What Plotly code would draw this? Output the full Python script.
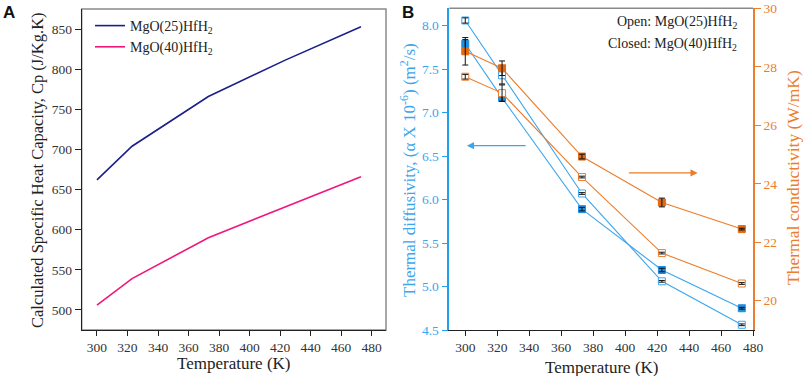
import plotly.graph_objects as go

# ---------------- data ----------------
temps = [300, 323, 373, 423, 473]
cp_mgo25 = [662, 704, 766, 811, 853]
cp_mgo40 = [506, 539, 590, 628, 666]

diff_open = [8.06, 7.43, 6.07, 5.06, 4.56]      # MgO(25)HfH2
diff_open_err = [0.03, 0.10, 0.01, 0.01, 0.01]
diff_closed = [7.79, 7.17, 5.89, 5.19, 4.75]    # MgO(40)HfH2
diff_closed_err = [0.05, 0.04, 0.02, 0.02, 0.01]

cond_open = [27.66, 27.10, 24.23, 21.63, 20.59]
cond_open_err = [0.08, 0.28, 0.03, 0.03, 0.03]
cond_closed = [28.53, 27.95, 24.93, 23.36, 22.45]
cond_closed_err = [0.47, 0.25, 0.08, 0.15, 0.03]

x_ticks = [300, 320, 340, 360, 380, 400, 420, 440, 460, 480]

# ---------------- style ----------------
SERIF = "Liberation Serif, Times New Roman, Times, serif"
SANS = "Liberation Sans, Arial, sans-serif"
NAVY = "#1b1f8a"
PINK = "#f0167e"
BLUE = "#3aa6ee"
BLUE_F = "#1e8ee0"
BLUE_AX = "#22a0ec"
ORANGE = "#ec7d2c"
ORANGE_F = "#e06a14"
GRAY = "#8a8a8a"

W, H = 803, 376
def px(x):
    return x / W
def py(y):
    return 1 - y / H

fig = go.Figure()

# Panel A
fig.add_trace(go.Scatter(x=temps, y=cp_mgo25, mode="lines", name="MgO(25)HfH<sub>2</sub>",
                         line=dict(color=NAVY, width=1.6), xaxis="x", yaxis="y"))
fig.add_trace(go.Scatter(x=temps, y=cp_mgo40, mode="lines", name="MgO(40)HfH<sub>2</sub>",
                         line=dict(color=PINK, width=1.6), xaxis="x", yaxis="y"))

# Panel B lines + markers
def series(y, color, fillc, open_, yaxis):
    return go.Scatter(x=temps, y=y, mode="lines+markers", showlegend=False,
                      line=dict(color=color, width=1.1),
                      marker=dict(symbol="square", size=7,
                                  color="white" if open_ else fillc,
                                  line=dict(color=color if open_ else fillc, width=1)),
                      xaxis="x2", yaxis=yaxis)

fig.add_trace(series(diff_open, BLUE, BLUE_F, True, "y2"))
fig.add_trace(series(diff_closed, BLUE, BLUE_F, False, "y2"))
fig.add_trace(series(cond_open, ORANGE, ORANGE_F, True, "y3"))
fig.add_trace(series(cond_closed, ORANGE, ORANGE_F, False, "y3"))

# error bars on top
def errs(y, e, yaxis):
    return go.Scatter(x=temps, y=y, mode="markers", showlegend=False,
                      marker=dict(size=1, opacity=0),
                      error_y=dict(type="data", array=e, visible=True, color="#111111",
                                   thickness=1, width=3),
                      xaxis="x2", yaxis=yaxis, hoverinfo="skip")

fig.add_trace(errs(diff_open, diff_open_err, "y2"))
fig.add_trace(errs(diff_closed, diff_closed_err, "y2"))
fig.add_trace(errs(cond_open, cond_open_err, "y3"))
fig.add_trace(errs(cond_closed, cond_closed_err, "y3"))

dA_x = [px(81.7), px(386)]
dA_y = [py(330), py(9)]
dB_x = [px(449.3), px(753)]
dB_y = [py(330), py(8.3)]

tickfont = dict(family=SERIF, size=13.5, color="#333333")

fig.update_layout(
    width=W, height=H,
    margin=dict(l=0, r=0, t=0, b=0),
    paper_bgcolor="white", plot_bgcolor="white",
    font=dict(family=SERIF, color="#222222"),
    showlegend=True,
    legend=dict(x=px(90), y=py(10), xanchor="left", yanchor="top",
                font=dict(family=SERIF, size=14, color="#222222"),
                bgcolor="rgba(0,0,0,0)", tracegroupgap=0, itemwidth=30),
    xaxis=dict(domain=dA_x, anchor="y", range=[290, 489.4], tickvals=x_ticks,
               showgrid=False, zeroline=False, showline=True, linecolor="#222222", linewidth=1.2,
               ticks="outside", ticklen=5, tickcolor="#222222", tickfont=tickfont, automargin=False),
    yaxis=dict(domain=dA_y, anchor="x", range=[475, 875], tickvals=[500, 550, 600, 650, 700, 750, 800, 850],
               showgrid=False, zeroline=False, showline=True, linecolor="#222222", linewidth=1.2,
               ticks="outside", ticklen=6, tickcolor="#222222", tickfont=tickfont, automargin=False),
    xaxis2=dict(domain=dB_x, anchor="y2", range=[290, 480], tickvals=x_ticks,
                showgrid=False, zeroline=False, showline=True, linecolor="#222222", linewidth=1.2,
                ticks="outside", ticklen=5, tickcolor="#222222", tickfont=tickfont, automargin=False),
    yaxis2=dict(domain=dB_y, anchor="x2", range=[4.5, 8.2],
                tickvals=[4.5, 5.0, 5.5, 6.0, 6.5, 7.0, 7.5, 8.0], ticktext=["4.5", "5.0", "5.5", "6.0", "6.5", "7.0", "7.5", "8.0"],
                showgrid=False, zeroline=False, showline=True, linecolor=BLUE_AX, linewidth=1.6,
                ticks="outside", ticklen=6, tickcolor=BLUE_AX,
                tickfont=dict(family=SERIF, size=13.5, color=BLUE), automargin=False),
    yaxis3=dict(overlaying="y2", anchor="x2", side="right", range=[19, 30],
                tickvals=[20, 22, 24, 26, 28, 30],
                showgrid=False, zeroline=False, showline=True, linecolor=ORANGE, linewidth=1.6,
                ticks="outside", ticklen=6, tickcolor=ORANGE,
                tickfont=dict(family=SERIF, size=13.5, color=ORANGE), automargin=False),
)

# gray frames (top/right) for panels
fig.add_shape(type="rect", xref="paper", yref="paper", x0=dA_x[0], x1=dA_x[1], y0=dA_y[0], y1=dA_y[1],
              line=dict(color=GRAY, width=1.5), layer="below")
fig.add_shape(type="line", xref="paper", yref="paper", x0=dB_x[0], x1=dB_x[1], y0=dB_y[1], y1=dB_y[1],
              line=dict(color=GRAY, width=1.5), layer="below")

ann = []
# panel labels
ann.append(dict(text="<b>A</b>", x=px(1), y=py(1), xref="paper", yref="paper", xanchor="left", yanchor="top",
                showarrow=False, font=dict(family=SANS, size=17, color="#111111")))
ann.append(dict(text="<b>B</b>", x=px(400), y=py(1), xref="paper", yref="paper", xanchor="left", yanchor="top",
                showarrow=False, font=dict(family=SANS, size=17, color="#111111")))
# axis titles
ann.append(dict(text="Calculated Specific Heat Capacity, Cp (J/Kg.K)", x=px(37), y=py(170),
                xref="paper", yref="paper", xanchor="center", yanchor="middle", textangle=-90, showarrow=False,
                font=dict(family=SERIF, size=16.5, color="#222222")))
ann.append(dict(text="Temperature (K)", x=px(233.5), y=py(363), xref="paper", yref="paper",
                xanchor="center", yanchor="middle",
                showarrow=False, font=dict(family=SERIF, size=17, color="#222222")))
ann.append(dict(text="Temperature (K)", x=px(601.7), y=py(367), xref="paper", yref="paper",
                xanchor="center", yanchor="middle",
                showarrow=False, font=dict(family=SERIF, size=17, color="#222222")))
ann.append(dict(text="Thermal diffusivity, (\u03b1 X 10<sup>-6</sup>) (m<sup>2</sup>/s)", x=px(408), y=py(170),
                xref="paper", yref="paper", xanchor="center", yanchor="middle", textangle=-90, showarrow=False,
                font=dict(family=SERIF, size=17, color=BLUE)))
ann.append(dict(text="Thermal conductivity (W/mK)", x=px(793), y=py(178), xref="paper", yref="paper",
                xanchor="center", yanchor="middle",
                textangle=-90, showarrow=False, font=dict(family=SERIF, size=17.5, color=ORANGE)))
# open/closed notes
ann.append(dict(text="Open: MgO(25)HfH<sub>2</sub>", x=px(739), y=py(22), xref="paper", yref="paper",
                xanchor="right", yanchor="middle", showarrow=False, font=dict(family=SERIF, size=14, color="#222222")))
ann.append(dict(text="Closed: MgO(40)HfH<sub>2</sub>", x=px(739), y=py(44), xref="paper", yref="paper",
                xanchor="right", yanchor="middle", showarrow=False, font=dict(family=SERIF, size=14, color="#222222")))
# arrows
ann.append(dict(x=301, y=6.62, ax=338.7, ay=6.62, xref="x2", yref="y2", axref="x2", ayref="y2",
                text="", showarrow=True, arrowhead=2, arrowsize=1.2, arrowwidth=1.2, arrowcolor=BLUE))
ann.append(dict(x=445.4, y=24.37, ax=401.4, ay=24.37, xref="x2", yref="y3", axref="x2", ayref="y3",
                text="", showarrow=True, arrowhead=2, arrowsize=1.2, arrowwidth=1.2, arrowcolor=ORANGE))
fig.update_layout(annotations=ann)

fig.write_html("out.html", config={"displayModeBar": False},
               post_script="document.body.style.margin='0';document.body.style.overflow='hidden';")
